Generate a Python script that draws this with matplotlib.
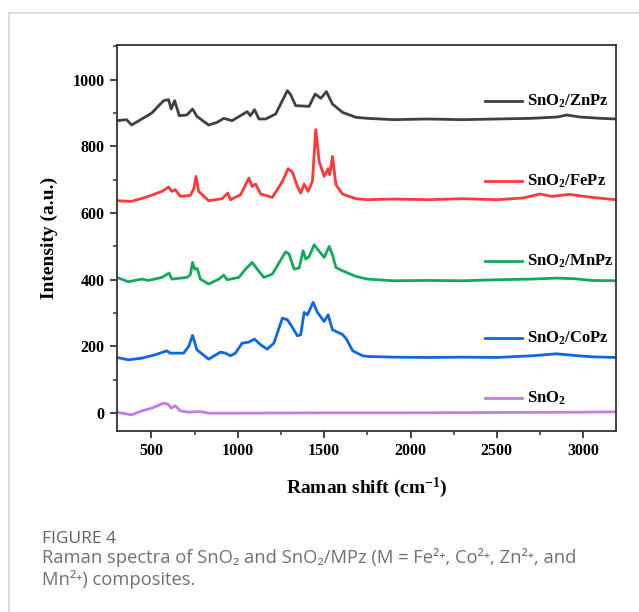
import matplotlib
matplotlib.use('Agg')
import matplotlib.pyplot as plt
from matplotlib.lines import Line2D
from matplotlib.ticker import MultipleLocator

plt.rcParams['font.family'] = 'Liberation Serif'
plt.rcParams['font.weight'] = 'bold'
plt.rcParams['mathtext.fontset'] = 'custom'
plt.rcParams['mathtext.rm'] = 'Liberation Serif:bold'
plt.rcParams['mathtext.it'] = 'Liberation Serif:bold:italic'
plt.rcParams['mathtext.bf'] = 'Liberation Serif:bold'

# Raman spectra (shift in cm-1, intensity a.u.)
zn_x = [300, 356, 385, 444, 502, 570, 599, 614, 634, 661, 705, 738, 763, 831, 880, 919, 967,
        1054, 1073, 1097, 1122, 1161, 1219, 1287, 1306, 1335, 1413, 1448, 1481, 1513, 1548,
        1606, 1684, 1750, 1900, 2100, 2300, 2500, 2700, 2850, 2905, 2980, 3100, 3190]
zn_y = [877, 880, 864, 882, 900, 937, 940, 912, 937, 892, 894, 912, 890, 864, 872, 884, 877,
        904, 892, 910, 882, 882, 897, 967, 955, 922, 920, 957, 944, 964, 927,
        902, 887, 884, 880, 882, 880, 882, 884, 888, 894, 888, 884, 882]

fe_x = [300, 385, 483, 560, 599, 618, 638, 667, 725, 745, 758, 773, 831, 909, 942, 957,
        1016, 1064, 1083, 1103, 1132, 1200, 1258, 1291, 1316, 1345, 1364, 1384, 1407, 1432,
        1451, 1471, 1500, 1523, 1532, 1548, 1568, 1606, 1684, 1750, 1900, 2100, 2300, 2500,
        2650, 2750, 2820, 2920, 3050, 3190]
fe_y = [637, 635, 650, 665, 678, 665, 670, 650, 653, 673, 710, 665, 637, 643, 660, 640,
        655, 705, 680, 687, 657, 647, 695, 733, 723, 680, 660, 687, 665, 695,
        850, 755, 710, 733, 715, 770, 685, 657, 643, 640, 642, 640, 643, 640,
        645, 657, 650, 656, 647, 640]

mn_x = [300, 366, 444, 483, 560, 602, 618, 705, 725, 738, 750, 765, 783, 831, 890, 919, 938,
        1006, 1045, 1083, 1112, 1151, 1200, 1229, 1277, 1297, 1326, 1355, 1378, 1394, 1413,
        1442, 1461, 1500, 1529, 1548, 1568, 1606, 1684, 1750, 1900, 2100, 2300, 2500, 2700,
        2850, 2950, 3050, 3190]
mn_y = [407, 394, 402, 398, 407, 420, 402, 407, 415, 452, 432, 434, 402, 387, 402, 414, 400,
        407, 432, 452, 432, 407, 417, 442, 484, 477, 432, 435, 487, 462, 470,
        505, 492, 467, 500, 475, 437, 427, 410, 402, 397, 398, 397, 400, 402,
        405, 403, 398, 397]

co_x = [300, 366, 444, 521, 589, 608, 686, 715, 738, 763, 831, 899, 928, 957, 986, 1025,
        1064, 1097, 1132, 1170, 1209, 1258, 1287, 1313, 1345, 1364, 1384, 1403, 1436, 1461,
        1500, 1523, 1548, 1606, 1629, 1665, 1723, 1758, 1900, 2100, 2300, 2500, 2700, 2846,
        2950, 3050, 3190]
co_y = [167, 160, 165, 175, 187, 180, 180, 200, 233, 190, 162, 183, 180, 172, 180, 210,
        213, 222, 205, 192, 210, 285, 280, 260, 232, 235, 302, 295, 332, 302,
        275, 295, 250, 236, 222, 187, 172, 170, 168, 167, 168, 167, 172, 178,
        173, 169, 167]

sn_x = [300, 385, 444, 502, 570, 595, 614, 638, 667, 715, 783, 831, 1000, 1500, 2000, 2500, 3000, 3190]
sn_y = [3, -5, 7, 15, 30, 27, 15, 22, 7, 3, 5, 0, 0, 1, 1, 2, 3, 4]

series = [
    (zn_x, zn_y, '#404040', 'SnO$_2$/ZnPz', 935),
    (fe_x, fe_y, '#ff3838', 'SnO$_2$/FePz', 695),
    (mn_x, mn_y, '#14a85c', 'SnO$_2$/MnPz', 455),
    (co_x, co_y, '#0f66de', 'SnO$_2$/CoPz', 225),
    (sn_x, sn_y, '#c27ce6', 'SnO$_2$', 45),
]

fig = plt.figure(figsize=(6.39, 6.12), dpi=100)
ax = fig.add_axes([0.183, 0.296, 0.781, 0.630])

for x, y, c, name, ly in series:
    ax.plot(x, y, color=c, lw=2.0)
    ax.plot([2430, 2645], [ly, ly], color=c, lw=2.0)
    ax.text(2672, ly, name, fontsize=12, fontweight='bold', va='center', ha='left')

ax.set_xlim(300, 3190)
ax.set_ylim(-53, 1103)
ax.xaxis.set_major_locator(MultipleLocator(500))
ax.xaxis.set_minor_locator(MultipleLocator(250))
ax.yaxis.set_major_locator(MultipleLocator(200))
ax.yaxis.set_minor_locator(MultipleLocator(100))
ax.tick_params(which='major', direction='out', length=5, width=1.3, color='#333333',
               labelsize=11.5, pad=4)
ax.tick_params(which='minor', direction='out', length=3, width=1.1, color='#333333')
for lab in ax.get_xticklabels() + ax.get_yticklabels():
    lab.set_fontweight('bold')
for s in ax.spines.values():
    s.set_linewidth(1.3)
    s.set_color('#333333')

ax.set_xlabel('Raman shift (cm$^{-1}$)', fontsize=14, fontweight='bold', labelpad=12)
ax.set_ylabel('Intensity (a.u.)', fontsize=14, fontweight='bold', labelpad=10)

# card border
fig.add_artist(Line2D([0.014, 1.0], [0.979, 0.979], transform=fig.transFigure, color='#d8d8d8', lw=1.2))
fig.add_artist(Line2D([0.014, 0.014], [0.0, 0.979], transform=fig.transFigure, color='#d8d8d8', lw=1.2))

cap = ['Open Sans', 'DejaVu Sans']
fig.text(0.066, 0.113, 'FIGURE 4', fontsize=12.5, color='#606060', family=cap, fontweight='normal')
fig.text(0.066, 0.080, 'Raman spectra of SnO₂ and SnO₂/MPz (M = Fe²⁺, Co²⁺, Zn²⁺, and',
         fontsize=13.2, color='#707070', family=cap, fontweight='normal')
fig.text(0.066, 0.044, 'Mn²⁺) composites.', fontsize=13.2, color='#707070', family=cap,
         fontweight='normal')

fig.savefig('out.png', dpi=100)
